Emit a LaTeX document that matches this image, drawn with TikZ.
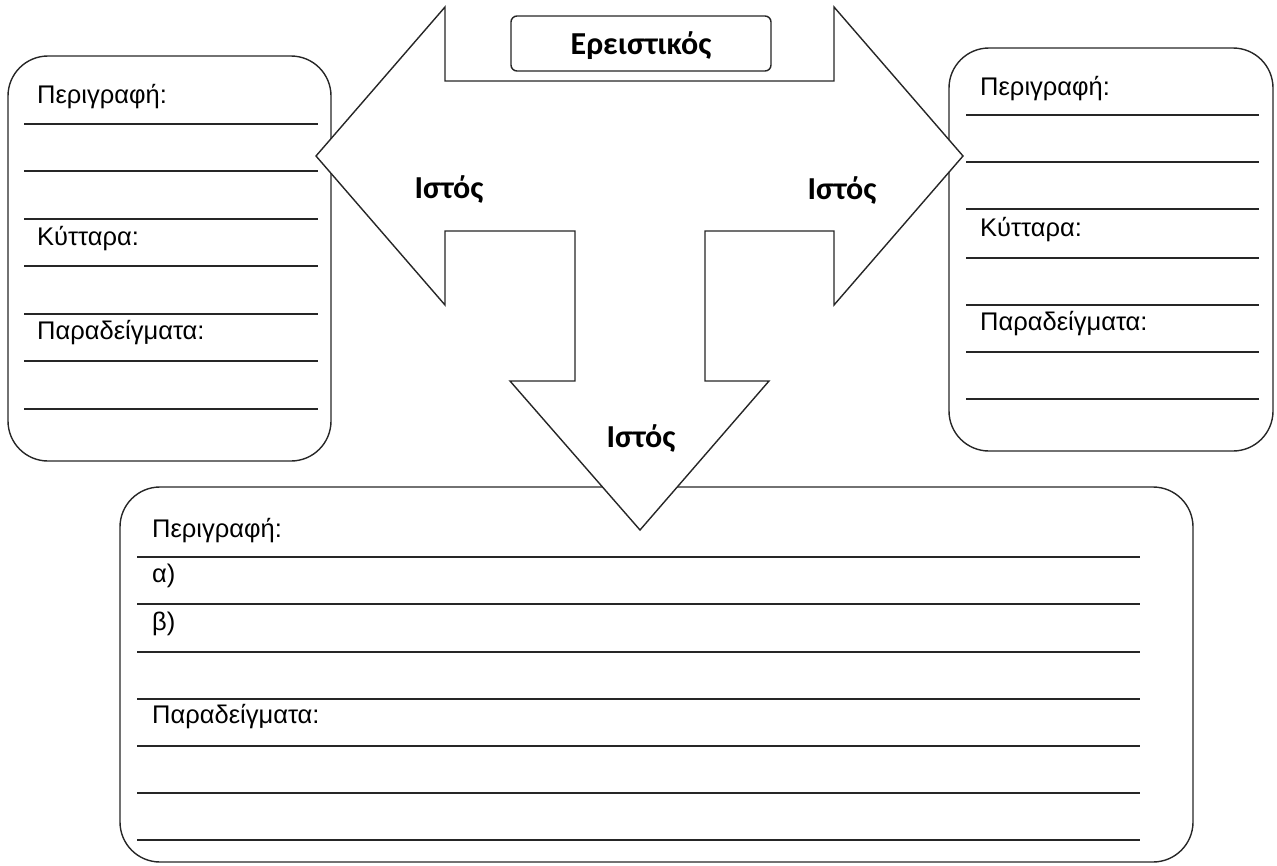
\documentclass[tikz,border=0pt]{standalone}
\usepackage{fontspec}
\setmainfont{Liberation Sans}
\newfontfamily\labelfont{Carlito}
\begin{document}
\begin{tikzpicture}[x=1pt,y=-1pt,
  panel/.style={draw=black!85, line width=1.4pt, rounded corners=40pt},
  rule/.style={draw=black!85, line width=1.3pt},
  lab/.style={anchor=base west, inner sep=0pt, font=\fontsize{25.5}{30}\selectfont},
  big/.style={anchor=base, inner sep=0pt, font=\labelfont\bfseries\fontsize{32}{36}\selectfont},
  arrowshape/.style={draw=black!85, fill=white, line width=1.4pt, line join=miter},
  titlebox/.style={draw=black!85, fill=white, line width=1.4pt, rounded corners=6pt}]
\useasboundingbox (0,0) rectangle (1277,865);

% left panel
\draw[panel] (8,56) rectangle (331,461);
\foreach \y in {124,171,219,266,314,361,409} \draw[rule] (24,\y) -- (318,\y);
\node[lab] (lp1) at (37,103) {Περιγραφή:};
\node[lab] (lp2) at (37,245) {Κύτταρα:};
\node[lab] (lp3) at (37,339) {Παραδείγματα:};

% right panel
\draw[panel] (949,48) rectangle (1273,451);
\foreach \y in {115,162,209,258,305,352,399} \draw[rule] (966,\y) -- (1259,\y);
\node[lab] (rp1) at (980,95) {Περιγραφή:};
\node[lab] (rp2) at (980,236) {Κύτταρα:};
\node[lab] (rp3) at (980,330) {Παραδείγματα:};

% bottom panel
\draw[panel] (120,487) rectangle (1193,862);
\foreach \y in {557,604,652,699,746,793,840} \draw[rule] (137,\y) -- (1140,\y);
\node[lab] (bp1) at (152,537) {Περιγραφή:};
\node[lab] (bp2) at (152,582) {α)};
\node[lab] (bp3) at (152,630) {β)};
\node[lab] (bp4) at (152,723) {Παραδείγματα:};

% three-way arrow
\draw[arrowshape] (316,156) -- (445,7) -- (445,81) -- (834,81) -- (834,7) -- (963,156)
  -- (834,305) -- (834,231) -- (705,231) -- (705,381) -- (769,381) -- (640,530)
  -- (510,381) -- (575,381) -- (575,231) -- (445,231) -- (445,305) -- cycle;

% title box
\draw[titlebox] (511,16) rectangle (771,71);
\node[big] (title) at (641,54) {Ερειστικός};

\node[big] (il) at (449,198) {Ιστός};
\node[big] (ir) at (842,199) {Ιστός};
\node[big] (ib) at (641,447) {Ιστός};
\end{tikzpicture}
\end{document}
